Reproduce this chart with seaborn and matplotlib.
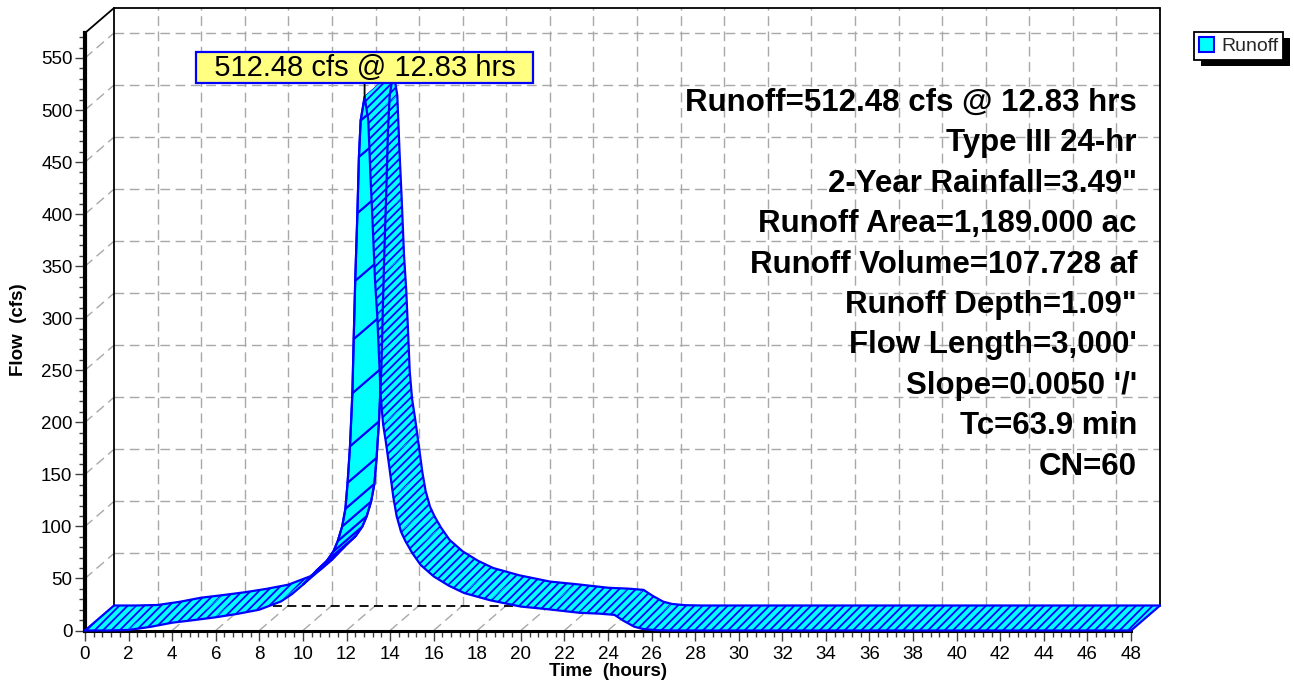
import numpy as np
import pandas as pd
import matplotlib
matplotlib.use("Agg")
import matplotlib.pyplot as plt
import seaborn as sns
from matplotlib.patches import Polygon, Patch, Rectangle
from matplotlib.ticker import MultipleLocator

# ---------------- data ----------------
hours = [0.0, 1.0, 2.0, 3.0, 4.0, 5.0, 6.0, 7.0, 8.0, 9.0, 9.5, 10.0, 10.6, 11.1,
         11.4, 11.6, 11.8, 11.95, 12.05, 12.16, 12.27, 12.33, 12.40, 12.50, 12.57,
         12.65, 12.83, 13.0, 13.11, 13.2, 13.31, 13.41, 13.49, 13.57, 13.68, 13.8,
         13.92, 14.15, 14.3, 14.5, 14.7, 15.0, 15.4, 16.0, 16.7, 17.4, 18.6, 20.0,
         21.2, 22.7, 23.6, 24.3, 24.7, 25.2, 25.6, 26.2, 27.0, 48.0]
flow_cfs = [0.0, 0.0, 0.5, 3.5, 7.5, 10.0, 12.7, 16.0, 20.0, 28.0, 35.0, 44.0, 57.0, 67.0,
            76.0, 86.0, 100.0, 117.0, 142.0, 177.0, 228.0, 280.0, 336.0, 401.0, 455.0,
            490.0, 512.48, 490.0, 432.0, 391.0, 336.0, 303.0, 265.0, 225.0, 198.0, 182.0,
            164.0, 128.0, 110.0, 95.0, 86.0, 75.0, 63.0, 52.0, 43.0, 36.0, 29.0, 23.0,
            20.5, 17.0, 16.2, 15.0, 9.5, 3.7, 1.5, 0.3, 0.0, 0.0]
peak_flow = 512.48
peak_time = 12.83
series_name = "Runoff"
x_label = "Time  (hours)"
y_label = "Flow  (cfs)"
info_lines = ["Runoff=512.48 cfs @ 12.83 hrs", "Type III 24-hr", "2-Year Rainfall=3.49\"",
              "Runoff Area=1,189.000 ac", "Runoff Volume=107.728 af", "Runoff Depth=1.09\"",
              "Flow Length=3,000'", "Slope=0.0050 '/'", "Tc=63.9 min", "CN=60"]
x_max = 48
y_max = 574

df = pd.DataFrame({"hours": hours, "flow": flow_cfs})

# ---------------- style ----------------
sns.set_theme(style="white")
plt.rcParams["font.family"] = ["Liberation Sans", "DejaVu Sans"]
plt.rcParams["patch.force_edgecolor"] = False
plt.rcParams["hatch.color"] = "#0000FF"
plt.rcParams["hatch.linewidth"] = 1.3

CYAN = "#00FFFF"
BLUE = "#0000FF"
GRID = "#A8A8A8"

W, H = 1294, 684
fig = plt.figure(figsize=(W / 100, H / 100), dpi=100)
L_px, R_px, B_px, T_px = 85, 1131, 630.5, 33
ax = fig.add_axes([L_px / W, 1 - B_px / H, (R_px - L_px) / W, (B_px - T_px) / H])
ax.set_xlim(0, x_max)
ax.set_ylim(0, y_max)

PXH = (R_px - L_px) / x_max       # pixels per hour
PXC = (B_px - T_px) / y_max       # pixels per cfs
DPX, DPY = 29.0, 25.0             # depth offset in pixels
DX, DY = DPX / PXH, DPY / PXC     # depth offset in data units

# ---------------- back wall, floor and side grid ----------------
gkw = dict(color=GRID, lw=1.0, dashes=(7, 4), zorder=1, clip_on=False)
for tv in range(2, x_max, 2):
    ax.plot([tv + DX, tv + DX], [DY, y_max + DY], **gkw)
    ax.plot([tv, tv + DX], [0, DY], **gkw)
for qv in range(50, 551, 50):
    ax.plot([DX, x_max + DX], [qv + DY, qv + DY], **gkw)
    ax.plot([0, DX], [qv, qv + DY], **gkw)

fkw = dict(color="black", lw=1.3, zorder=2, clip_on=False)
ax.plot([DX, DX], [DY, y_max + DY], **fkw)
ax.plot([DX, x_max + DX], [y_max + DY, y_max + DY], **fkw)
ax.plot([x_max + DX, x_max + DX], [DY, y_max + DY], **fkw)
ax.plot([0, DX], [y_max, y_max + DY], **fkw)
ax.plot([DX, x_max + DX], [DY, DY], color="black", lw=1.3, dashes=(5, 3), zorder=2, clip_on=False)

# ---------------- 3-D ribbon ----------------
t = df["hours"].to_numpy()
q = df["flow"].to_numpy()
for i in range(len(t) - 1):
    f0, f1 = (t[i], q[i]), (t[i + 1], q[i + 1])
    b1, b0 = (t[i + 1] + DX, q[i + 1] + DY), (t[i] + DX, q[i] + DY)
    quad = [f0, f1, b1, b0]
    sx = (t[i + 1] - t[i]) * PXH
    sy = (q[i + 1] - q[i]) * PXC
    if sx * DPY - sy * DPX >= 0:   # upper side visible
        ax.add_patch(Polygon(quad, closed=True, facecolor=CYAN, edgecolor=CYAN,
                             lw=0.6, zorder=4, clip_on=False))
        ax.add_patch(Polygon(quad, closed=True, facecolor="none", edgecolor=BLUE,
                             lw=0, hatch="////", zorder=4, clip_on=False))
    else:                          # underside visible
        ax.add_patch(Polygon(quad, closed=True, facecolor=CYAN, edgecolor=BLUE,
                             lw=1.5, zorder=4, clip_on=False))

sns.lineplot(data=df, x="hours", y="flow", ax=ax, color=BLUE, lw=1.6, sort=False,
             estimator=None, zorder=5, clip_on=False)
back = pd.DataFrame({"hours": df["hours"] + DX, "flow": df["flow"] + DY})
sns.lineplot(data=back, x="hours", y="flow", ax=ax, color=BLUE, lw=1.6, sort=False,
             estimator=None, zorder=5, clip_on=False)
ax.plot([t[0], t[0] + DX], [q[0], q[0] + DY], color=BLUE, lw=1.6, zorder=5, clip_on=False)
ax.plot([t[-1], t[-1] + DX], [q[-1], q[-1] + DY], color=BLUE, lw=1.6, zorder=5, clip_on=False)

# ---------------- peak label ----------------
ax.annotate("  %.2f cfs @ %.2f hrs  " % (peak_flow, peak_time),
            xy=(peak_time, peak_flow), xytext=(peak_time, 540.8), textcoords="data",
            ha="center", va="center", fontsize=21, color="black",
            bbox=dict(boxstyle="square,pad=0.05", fc="#FFFF80", ec=BLUE, lw=1.6),
            arrowprops=dict(arrowstyle="-", color="black", lw=1.3, shrinkA=0, shrinkB=0),
            zorder=10, annotation_clip=False)

# ---------------- axes styling ----------------
for s in ("top", "right"):
    ax.spines[s].set_visible(False)
ax.spines["left"].set_linewidth(3.0)
ax.spines["left"].set_color("black")
ax.spines["bottom"].set_linewidth(2.2)
ax.spines["bottom"].set_color("black")
ax.spines["left"].set_zorder(3)
ax.spines["bottom"].set_zorder(3)

ax.xaxis.set_major_locator(MultipleLocator(2))
ax.xaxis.set_minor_locator(MultipleLocator(0.4))
ax.yaxis.set_major_locator(MultipleLocator(50))
ax.yaxis.set_minor_locator(MultipleLocator(10))
ax.set_yticks(list(range(0, 551, 50)))
ax.tick_params(which="both", bottom=True, left=True, direction="out", color="#404040",
               width=1.0, labelcolor="black")
ax.tick_params(which="major", length=7, labelsize=13.5)
ax.tick_params(which="minor", length=4.5)
ax.tick_params(axis="y", pad=2)
ax.tick_params(axis="x", pad=4)
ax.grid(False)

ax.set_xlabel(x_label, fontsize=13.5, fontweight="bold", color="black", va="top")
ax.set_ylabel(y_label, fontsize=13.5, fontweight="bold", color="black")
ax.xaxis.set_label_coords(0.5, -0.054)
ax.yaxis.set_label_coords(-0.0555, 0.503)

# ---------------- info block ----------------
for k, line in enumerate(info_lines):
    base_px = 111 + 40.4 * k
    fig.text(1137 / W, 1 - base_px / H, line, ha="right", va="baseline",
             fontsize=22.5, fontweight="bold", color="black", zorder=6)

# ---------------- legend ----------------
leg = fig.legend(handles=[Patch(facecolor=CYAN, edgecolor=BLUE, lw=1.5, label=series_name)],
                 loc="upper left", bbox_to_anchor=(1194 / W, 1 - 32 / H),
                 bbox_transform=fig.transFigure, fancybox=False, framealpha=1,
                 edgecolor="black", fontsize=14, borderpad=0.25, handlelength=0.8,
                 handleheight=0.8, handletextpad=0.35, borderaxespad=0)
leg.get_frame().set_linewidth(1.3)
leg.set_zorder(6)
fig.canvas.draw()
bb = leg.get_window_extent()
inv = fig.transFigure.inverted()
(x0, y0), (x1, y1) = inv.transform([(bb.x0 + 7, bb.y0 - 6), (bb.x1 + 7, bb.y1 - 6)])
fig.add_artist(Rectangle((x0, y0), x1 - x0, y1 - y0, transform=fig.transFigure,
                         facecolor="black", edgecolor="none", zorder=5))

fig.savefig("out.png", dpi=100)
